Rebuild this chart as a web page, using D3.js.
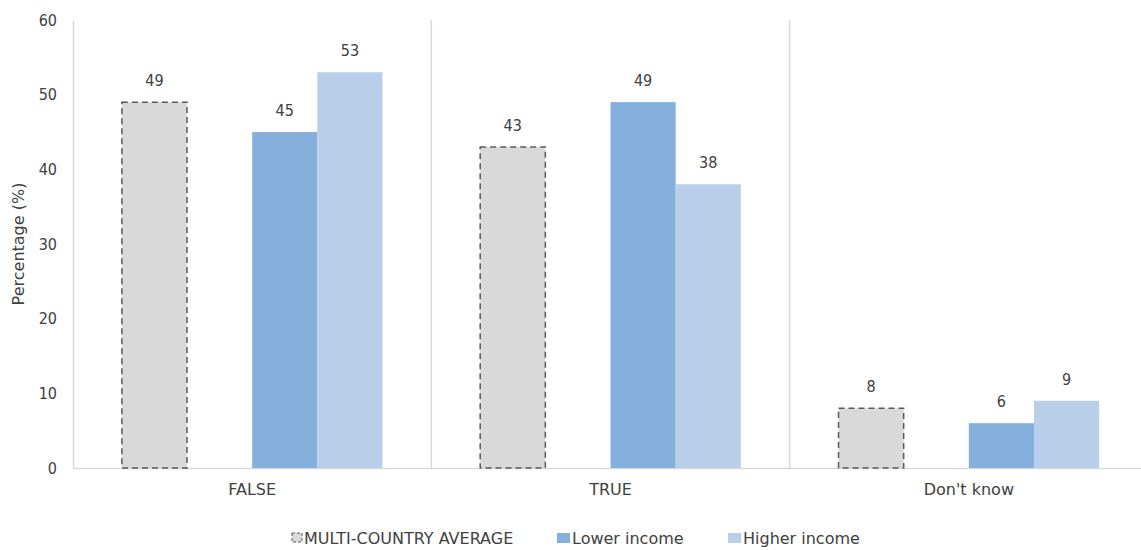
<!DOCTYPE html>
<html>
<head>
<meta charset="utf-8">
<script src="https://cdn.jsdelivr.net/npm/d3@7"></script>
<style>
  body { margin: 0; background: #fff; }
  text { font-family: "DejaVu Sans", sans-serif; fill: #404040; }
  .num { font-family: "DejaVu Sans Condensed", "DejaVu Sans", sans-serif; }
</style>
</head>
<body>
<div id="chart"></div>
<script>
// data
var categories = ["FALSE", "TRUE", "Don't know"];
var seriesNames = ["MULTI-COUNTRY AVERAGE", "", "Lower income", "Higher income"];
var average = [49, 43, 8];
var lowerIncome = [45, 49, 6];
var higherIncome = [53, 38, 9];
var yTicks = [0, 10, 20, 30, 40, 50, 60];

var svgWidth = 1141, svgHeight = 550;
var margin = {top: 20, right: -7, bottom: 82, left: 73};
var width = svgWidth - margin.left - margin.right;
var height = svgHeight - margin.top - margin.bottom;

var svg = d3.select("#chart").append("svg")
    .attr("width", svgWidth)
    .attr("height", svgHeight);

var chartGroup = svg.append("g")
    .attr("transform", `translate(${margin.left}, ${margin.top})`);

var x = d3.scaleBand()
    .domain(categories)
    .range([0, width]);

// four slots per category, second one is empty spacer
var xInner = d3.scaleBand()
    .domain([0, 1, 2, 3])
    .range([0, x.bandwidth()])
    .paddingOuter(0.75);

var y = d3.scaleLinear()
    .domain([0, 60])
    .range([height, 0]);

// separators between categories
chartGroup.selectAll(".sep")
    .data(categories.slice(1))
    .enter()
    .append("line")
    .attr("x1", d => x(d))
    .attr("x2", d => x(d))
    .attr("y1", 0)
    .attr("y2", height)
    .attr("stroke", "#d9d9d9")
    .attr("stroke-width", 1.5);

// y axis
var leftAxis = d3.axisLeft(y).tickValues(yTicks).tickSize(0).tickPadding(16);
var yAxisG = chartGroup.append("g").call(leftAxis);
yAxisG.select(".domain").attr("stroke", "#d9d9d9").attr("stroke-width", 1.5);
yAxisG.selectAll("text").attr("class", "num").style("font-size", "16px").attr("fill", "#595959");

// x axis
var bottomAxis = d3.axisBottom(x).tickSize(0).tickPadding(16);
var xAxisG = chartGroup.append("g")
    .attr("transform", `translate(0, ${height})`)
    .call(bottomAxis);
xAxisG.select(".domain").attr("stroke", "#d9d9d9").attr("stroke-width", 1.5);
xAxisG.selectAll("text").style("font-size", "16px").attr("fill", "#595959");

var series = [
    {name: seriesNames[0], slot: 0, values: average, fill: "#d9d9d9", dashed: true},
    {name: seriesNames[2], slot: 2, values: lowerIncome, fill: "#85afdc", dashed: false},
    {name: seriesNames[3], slot: 3, values: higherIncome, fill: "#b8cee9", dashed: false}
];

series.forEach(function(s) {
    var g = chartGroup.append("g");
    g.selectAll("rect")
        .data(s.values)
        .enter()
        .append("rect")
        .attr("x", (d, i) => x(categories[i]) + xInner(s.slot))
        .attr("y", d => y(d))
        .attr("width", xInner.bandwidth())
        .attr("height", d => height - y(d))
        .attr("fill", s.fill)
        .attr("stroke", s.dashed ? "#595959" : "none")
        .attr("stroke-width", 1.5)
        .attr("stroke-dasharray", s.dashed ? "6,4" : null);

    g.selectAll("text")
        .data(s.values)
        .enter()
        .append("text")
        .attr("class", "num")
        .attr("x", (d, i) => x(categories[i]) + xInner(s.slot) + xInner.bandwidth() / 2)
        .attr("y", d => y(d) - 16)
        .attr("text-anchor", "middle")
        .style("font-size", "16px")
        .text(d => d);
});

// y axis title
chartGroup.append("text")
    .attr("transform", "rotate(-90)")
    .attr("x", -height / 2)
    .attr("y", -55)
    .attr("dy", "0.35em")
    .attr("text-anchor", "middle")
    .style("font-size", "16px")
    .attr("fill", "#595959")
    .text("Percentage (%)");

// legend
var legendItems = [
    {label: series[0].name, fill: series[0].fill, dashed: true, x: 292},
    {label: series[1].name, fill: series[1].fill, dashed: false, x: 557},
    {label: series[2].name, fill: series[2].fill, dashed: false, x: 728}
];
var legend = svg.append("g");
legendItems.forEach(function(item) {
    legend.append("rect")
        .attr("x", item.x)
        .attr("y", 533)
        .attr("width", item.dashed ? 10 : 13)
        .attr("height", item.dashed ? 9 : 10)
        .attr("fill", item.fill)
        .attr("stroke", item.dashed ? "#595959" : "none")
        .attr("stroke-width", 1)
        .attr("stroke-dasharray", item.dashed ? "3,2" : null);
    legend.append("text")
        .attr("x", item.x + (item.dashed ? 12 : 15))
        .attr("y", 538)
        .attr("dy", "0.35em")
        .style("font-size", "16px")
        .attr("fill", "#595959")
        .text(item.label);
});
</script>
</body>
</html>
